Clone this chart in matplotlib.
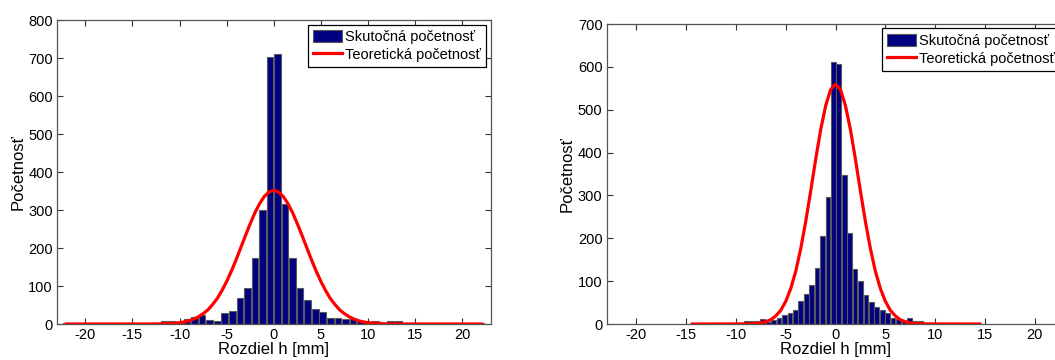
import matplotlib.pyplot as plt
import numpy as np

plt.rcParams['font.family'] = ['Liberation Sans', 'DejaVu Sans']
plt.rcParams['axes.unicode_minus'] = False

# left histogram: 56 bins, centres -22 ... 22
left_lo, left_hi = -22.0, 22.0
left_counts = [3, 0, 0, 0, 0, 0, 0, 0, 0, 0, 0, 0, 0,
               9, 9, 6, 12, 18, 25, 10, 8, 28, 35, 68, 95, 175, 300,
               702, 712,
               315, 175, 95, 62, 40, 32, 17, 17, 12, 12, 8, 5, 8, 3, 7, 9,
               0, 0, 0, 0, 0, 0, 0, 0, 0, 0, 3]
left_curve_x = [-22, -13, -12, -11, -10, -9.5, -9, -8.5, -8, -7.5, -7, -6.5, -6, -5.5, -5,
                -4.5, -4, -3.5, -3, -2.5, -2, -1.5, -1, -0.5, 0, 0.5, 1, 1.5, 2,
                2.5, 3, 3.5, 4, 4.5, 5, 5.5, 6, 6.5, 7, 7.5, 8, 8.5, 9, 9.5, 10,
                11, 12, 13, 22]
left_curve_y = [0, 0.1, 0.5, 1.4, 3.6, 5.6, 8.5, 13, 19, 27, 37, 51, 67, 88, 112,
                139, 169, 201, 233, 264, 293, 317, 336, 348, 352, 348, 336, 317, 293,
                264, 233, 201, 169, 139, 112, 88, 67, 51, 37, 27, 19, 13, 8.5, 5.6, 3.6,
                1.4, 0.5, 0.1, 0]

# right histogram: 54 bins, centres -14.4 ... 14.5
right_lo, right_hi = -14.4, 14.5
right_counts = [0, 0, 0, 0, 0, 0, 0, 0, 0, 0,
                8, 8, 8, 12, 5, 10, 15, 20, 25, 33, 53, 70, 90, 130, 205, 297,
                612, 607,
                348, 213, 128, 100, 68, 52, 40, 33, 25, 15, 12, 8, 14, 8, 8,
                0, 0, 0, 0, 0, 0, 0, 0, 0, 0, 0]
right_curve_x = [-14.4, -9, -8.5, -8, -7.5, -7, -6.5, -6, -5.5, -5, -4.5, -4, -3.5, -3, -2.5,
                 -2, -1.5, -1, -0.5, 0, 0.5, 1, 1.5, 2, 2.5, 3, 3.5, 4, 4.5, 5,
                 5.5, 6, 6.5, 7, 7.5, 8, 8.5, 9, 14.5]
right_curve_y = [0, 0.3, 0.6, 1.3, 2.7, 5.5, 10, 19, 32, 53, 83, 123, 176, 239, 310,
                 384, 453, 509, 547, 560, 547, 509, 453, 384, 310, 239, 176, 123, 83, 53,
                 32, 19, 10, 5.5, 2.7, 1.3, 0.6, 0.3, 0]

xticks = [-20, -15, -10, -5, 0, 5, 10, 15, 20]

fig = plt.figure(figsize=(10.55, 3.6), dpi=100)


def panel(rect, lo, hi, counts, cx, cy, ymax):
    ax = fig.add_axes(rect)
    centers = np.linspace(lo, hi, len(counts))
    w = centers[1] - centers[0]
    bars = ax.bar(centers, counts, width=w * 0.88, color='#000080', edgecolor='#5a5a5a',
                  linewidth=0.8, zorder=2)
    line, = ax.plot(cx, cy, color='#ff0000', linewidth=2.3, zorder=3,
                    solid_joinstyle='round')
    ax.set_xlim(-23, 23)
    ax.set_ylim(0, ymax)
    ax.set_xticks(xticks)
    ax.set_yticks(np.arange(0, ymax + 1, 100))
    ax.tick_params(direction='in', length=4, top=True, right=True, labelsize=10.5,
                   color='#333333', pad=3)
    for s in ax.spines.values():
        s.set_color('#555555')
        s.set_linewidth(0.9)
    ax.set_xlabel('Rozdiel h [mm]', fontsize=12, labelpad=0)
    ax.set_ylabel('Početnosť', fontsize=12, labelpad=2)
    leg = ax.legend([bars, line], ['Skutočná početnosť', 'Teoretická početnosť'],
                    loc='upper right', fontsize=10.5, fancybox=False, framealpha=1,
                    edgecolor='black', borderaxespad=0.3, handlelength=2.0,
                    handleheight=0.95, handletextpad=0.2, borderpad=0.35,
                    labelspacing=0.25)
    leg.get_frame().set_linewidth(0.9)
    return ax


panel([0.054, 0.1, 0.411, 0.844], left_lo, left_hi, left_counts,
      left_curve_x, left_curve_y, 800)
panel([0.575, 0.1, 0.434, 0.833], right_lo, right_hi, right_counts,
      right_curve_x, right_curve_y, 700)

fig.savefig('out.png', dpi=100)
